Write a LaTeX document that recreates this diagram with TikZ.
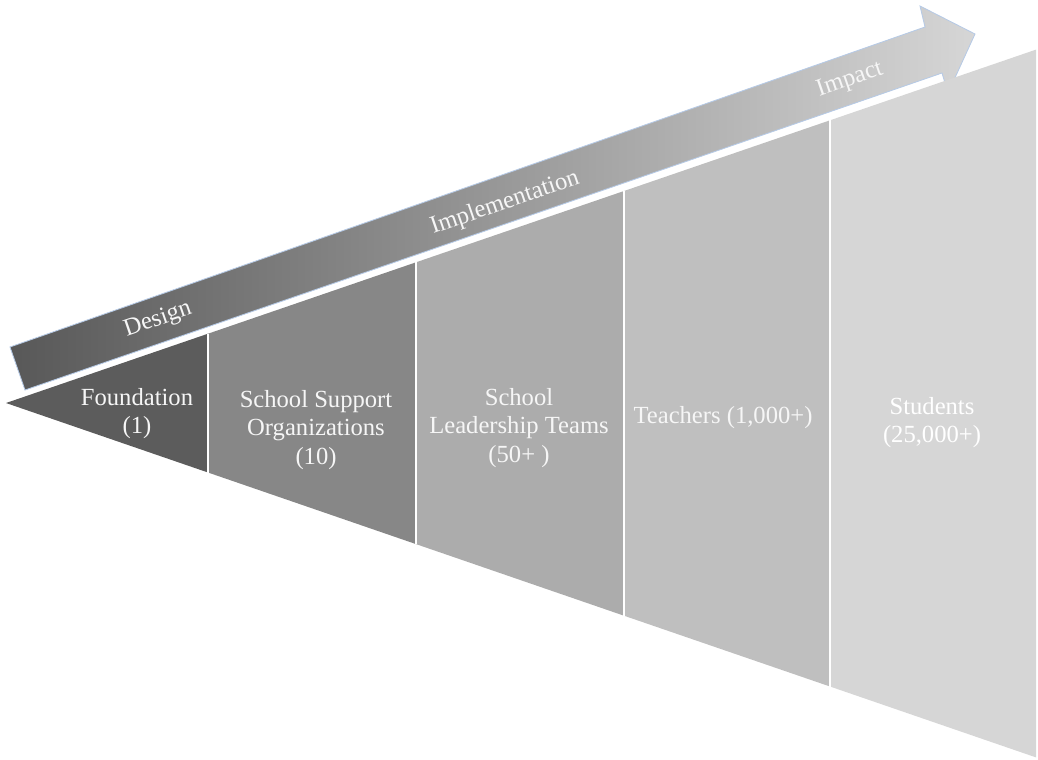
\documentclass[tikz,border=0pt]{standalone}
\usepackage{fontspec}
\setmainfont{Liberation Serif}
\definecolor{segA}{RGB}{92,92,92}
\definecolor{segB}{RGB}{135,135,135}
\definecolor{segC}{RGB}{172,172,172}
\definecolor{segD}{RGB}{191,191,191}
\definecolor{segE}{RGB}{214,214,214}
\definecolor{arrowL}{RGB}{88,88,88}
\definecolor{arrowR}{RGB}{214,214,214}
\definecolor{arrowrim}{RGB}{182,202,230}
\definecolor{lbltext}{RGB}{246,246,246}
\begin{document}
\begin{tikzpicture}[x=0.025cm,y=-0.025cm,
    divider/.style={draw=white,line width=1.2pt},
    lbl/.style={text=lbltext,align=center,font=\fontsize{17.5}{20}\selectfont},
    stagelbl/.style={text=lbltext,rotate=19,font=\fontsize{17.5}{20}\selectfont}]
    \useasboundingbox (0,0) rectangle (1038,759);
    % arrow across the top
    \draw[draw=arrowrim,line width=0.6pt,left color=arrowL,right color=arrowR]
        (25,390) -- (942,73) -- (948,93) -- (975,34) -- (920,6) -- (925,27) -- (10,347) -- cycle;
    \node[stagelbl] (design) at (158,320) {Design};
    \node[stagelbl] (implementation) at (505,203) {Implementation};
    \node[stagelbl] (impact) at (850,80) {Impact};
    % funnel
    \fill[segA] (6,403) -- (208,333.7) -- (208,472.5) -- cycle;
    \fill[segB] (208,333.7) -- (416,262.3) -- (416,544.1) -- (208,472.5) -- cycle;
    \fill[segC] (416,262.3) -- (624,191) -- (624,615.7) -- (416,544.1) -- cycle;
    \fill[segD] (624,191) -- (830,120.3) -- (830,686.5) -- (624,615.7) -- cycle;
    \fill[segE] (830,120.3) -- (1036,49.6) -- (1036,757.4) -- (830,686.5) -- cycle;
    \draw[divider] (208,333.7) -- (208,472.5);
    \draw[divider] (416,262.3) -- (416,544.1);
    \draw[divider] (624,191) -- (624,615.7);
    \draw[divider] (830,120.3) -- (830,686.5);
    \node[lbl] (foundation) at (137,414) {Foundation\\(1)};
    \node[lbl] (support) at (316,430) {School Support\\Organizations\\(10)};
    \node[lbl] (leadership) at (519,428) {School\\Leadership Teams\\(50+ )};
    \node[lbl] (teachers) at (723,418) {Teachers (1,000+)};
    \node[lbl,text=white] (students) at (932,423) {Students\\(25,000+)};
\end{tikzpicture}
\end{document}
